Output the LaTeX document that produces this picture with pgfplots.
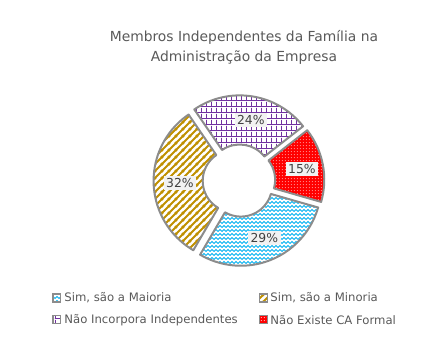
\documentclass[border=0pt]{standalone}
\usepackage{pgfplots}
\pgfplotsset{compat=1.18}
\usepackage{pgfplotstable}
\usepackage{fontspec}
\setmainfont{DejaVu Sans}
\usetikzlibrary{patterns,patterns.meta}

\definecolor{txt}{HTML}{595959}
\definecolor{lbl}{HTML}{404040}
\definecolor{edge}{HTML}{8C8C8C}
\definecolor{cblue}{HTML}{00B0F0}
\definecolor{cgold}{HTML}{BF9000}
\definecolor{cpurp}{HTML}{7030A0}
\definecolor{cred}{HTML}{FF0000}
\definecolor{lblbg}{HTML}{F2F2F2}

\tikzdeclarepattern{name=weave, type=uncolored,
  bounding box={(0,0) and (4bp,4bp)}, tile size={(4bp,4bp)},
  code={\draw[line width=0.8bp] (0,0.5bp) -- (2bp,2.5bp) -- (4bp,0.5bp);}}
\tikzdeclarepattern{name=gridP, type=uncolored,
  bounding box={(0,0) and (5.5bp,5.5bp)}, tile size={(5.5bp,5.5bp)},
  code={\draw[line width=0.8bp] (0,0.5bp)--(5.5bp,0.5bp) (0.5bp,0)--(0.5bp,5.5bp);}}
\tikzdeclarepattern{name=dotsP, type=uncolored,
  bounding box={(0,0) and (3.2bp,3.2bp)}, tile size={(3.2bp,3.2bp)},
  code={\fill (1.6bp,1.6bp) circle[radius=0.6bp];}}
\tikzdeclarepattern{name=stripeP, type=uncolored,
  bounding box={(0,0) and (6.8bp,6.8bp)}, tile size={(6.8bp,6.8bp)},
  code={\draw[line width=2bp] (-1bp,-1bp)--(7.8bp,7.8bp) (-1bp,5.8bp)--(1bp,7.8bp) (5.8bp,-1bp)--(7.8bp,1bp);}}

\tikzset{
 s0/.style={preaction={fill=white}, pattern=weave, pattern color=cblue},
 s1/.style={preaction={fill=white}, pattern=stripeP, pattern color=cgold},
 s2/.style={preaction={fill=white}, pattern=gridP, pattern color=cpurp},
 s3/.style={preaction={fill=cred}, pattern=dotsP, pattern color=white},
}

\pgfplotstableread{
value
29
32
24
15
}\datatable

% geometry (1 axis unit = 1bp)
\def\cx{237.5}\def\cy{183}
\def\Rout{81}\def\Rin{31.5}\def\expl{5}\def\Rlab{62}
\def\startang{-16}

\begin{document}
\def\cum{0}
\foreach \i in {0,...,3}{%
  \pgfplotstablegetelem{\i}{value}\of\datatable
  \pgfmathsetmacro\v{\pgfplotsretval}%
  \pgfmathsetmacro\s{\startang-\cum*3.6}%
  \pgfmathsetmacro\e{\s-\v*3.6}%
  \pgfmathsetmacro\m{(\s+\e)/2}%
  \pgfmathsetmacro\ccx{\cx+\expl*cos(\m)}%
  \pgfmathsetmacro\ccy{\cy+\expl*sin(\m)}%
  \pgfmathsetmacro\ox{\ccx+\Rout*cos(\s)}%
  \pgfmathsetmacro\oy{\ccy+\Rout*sin(\s)}%
  \pgfmathsetmacro\ix{\ccx+\Rin*cos(\e)}%
  \pgfmathsetmacro\iy{\ccy+\Rin*sin(\e)}%
  \pgfmathsetmacro\lx{\cx+2.5+\Rlab*cos(\m)}%
  \pgfmathsetmacro\ly{\cy+\Rlab*sin(\m)}%
  \pgfmathtruncatemacro\vv{\v}%
  \expandafter\xdef\csname sa\i\endcsname{\s}%
  \expandafter\xdef\csname ea\i\endcsname{\e}%
  \expandafter\xdef\csname ox\i\endcsname{\ox}%
  \expandafter\xdef\csname oy\i\endcsname{\oy}%
  \expandafter\xdef\csname ix\i\endcsname{\ix}%
  \expandafter\xdef\csname iy\i\endcsname{\iy}%
  \expandafter\xdef\csname lx\i\endcsname{\lx}%
  \expandafter\xdef\csname ly\i\endcsname{\ly}%
  \expandafter\xdef\csname val\i\endcsname{\vv}%
  \pgfmathsetmacro\c{\cum+\v}\xdef\cum{\c}%
}%
\begin{tikzpicture}
\begin{axis}[
  scale only axis, width=445bp, height=365bp,
  xmin=0, xmax=445, ymin=0, ymax=365,
  hide axis, clip=false,
]
\path (axis cs:0,0) (axis cs:445,365);
% title
\node[text=txt, font=\fontsize{14}{20}\selectfont, align=center]
  at (axis cs:242.5,317) {Membros Independentes da Família na\\Administração da Empresa};
% slices
\pgfplotsinvokeforeach{0,...,3}{
  \draw[s#1, draw=edge, line width=2bp, line join=round]
    (axis cs:\csname ox#1\endcsname,\csname oy#1\endcsname)
    arc[start angle=\csname sa#1\endcsname, end angle=\csname ea#1\endcsname, radius=\Rout bp]
    -- (axis cs:\csname ix#1\endcsname,\csname iy#1\endcsname)
    arc[start angle=\csname ea#1\endcsname, end angle=\csname sa#1\endcsname, radius=\Rin bp]
    -- cycle;
}
\pgfplotsinvokeforeach{0,...,3}{
  \node[fill=lblbg, text=lbl, inner sep=2.5bp, font=\fontsize{12.5}{14}\selectfont]
    at (axis cs:\csname lx#1\endcsname,\csname ly#1\endcsname) {\csname val#1\endcsname\%};
}
% legend
\draw[s0, draw=edge, line width=1.5bp] (axis cs:50,61) rectangle (axis cs:58,69);
\node[anchor=west, text=txt, font=\fontsize{11.8}{13}\selectfont, inner sep=0pt] at (axis cs:61.5,65) {Sim, são a Maioria};
\draw[s1, draw=edge, line width=1.5bp] (axis cs:258,61) rectangle (axis cs:266,69);
\node[anchor=west, text=txt, font=\fontsize{11.8}{13}\selectfont, inner sep=0pt] at (axis cs:269,65) {Sim, são a Minoria};
\draw[s2, draw=edge, line width=1.5bp] (axis cs:50,39) rectangle (axis cs:58,47);
\node[anchor=west, text=txt, font=\fontsize{11.8}{13}\selectfont, inner sep=0pt] at (axis cs:61.5,43) {Não Incorpora Independentes};
\draw[s3, draw=edge, line width=1.5bp] (axis cs:258,39) rectangle (axis cs:266,47);
\node[anchor=west, text=txt, font=\fontsize{11.8}{13}\selectfont, inner sep=0pt] at (axis cs:269,43) {Não Existe CA Formal};
\end{axis}
\end{tikzpicture}
\end{document}
